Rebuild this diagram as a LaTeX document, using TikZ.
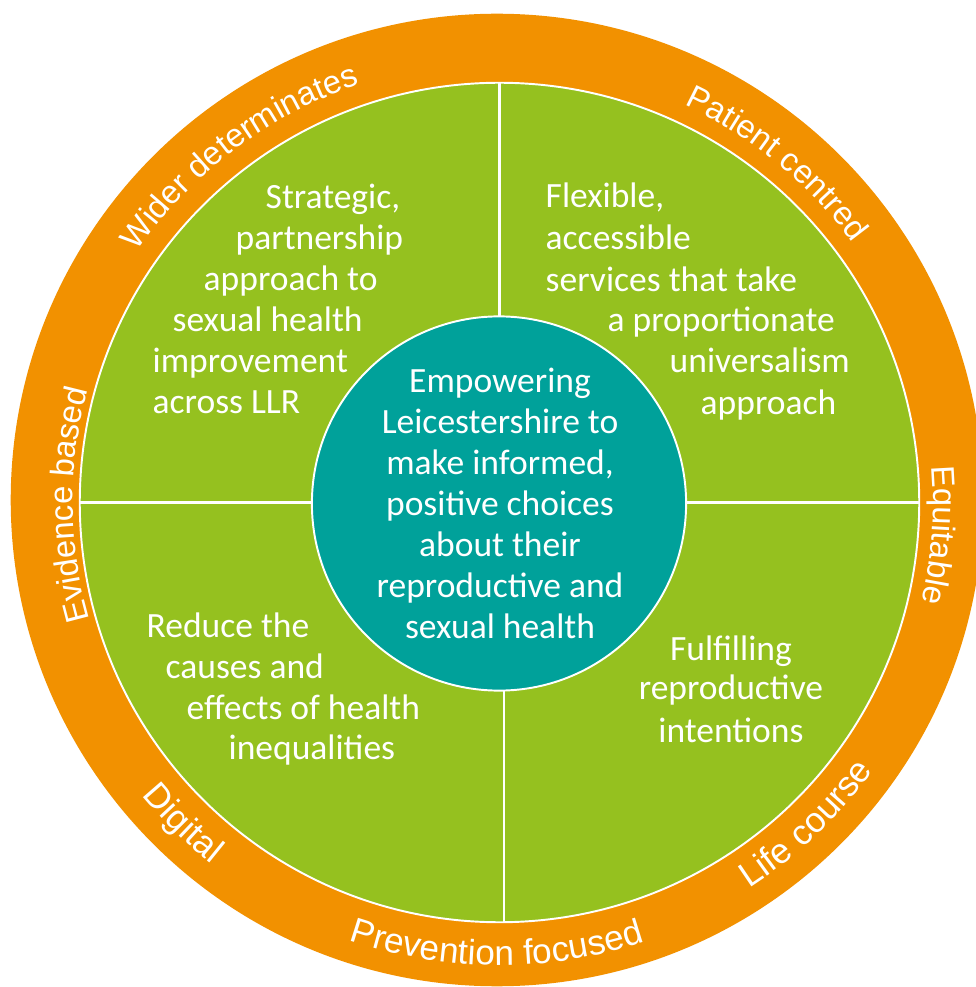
\documentclass[tikz,border=0pt]{standalone}
\usepackage{fontspec}
\usetikzlibrary{decorations.text}
\newfontfamily\bodyfnt{Carlito}
\newfontfamily\ringfnt{Liberation Sans}
\definecolor{ringorange}{HTML}{F29100}
\definecolor{wheelgreen}{HTML}{95C11F}
\definecolor{hubteal}{HTML}{00A19A}
\tikzset{
  ringdisc/.style={circle, fill=ringorange, minimum size=9.72cm, inner sep=0pt},
  wheeldisc/.style={circle, fill=wheelgreen, draw=white, line width=0.55pt, minimum size=8.39cm, inner sep=0pt},
  hubdisc/.style={circle, fill=hubteal, draw=white, line width=0.55pt, minimum size=3.74cm, inner sep=0pt},
  divider/.style={draw=white, line width=0.6pt},
  txt/.style={text=white, inner sep=0pt, font=\bodyfnt\fontsize{10.1}{12}\selectfont},
  lft/.style={txt, anchor=base west},
  ctr/.style={txt, anchor=base},
  cwlabel/.style={decorate, decoration={text along path, text align=center, text color=white,
     text={|\ringfnt\fontsize{9.3}{11}\selectfont|#1}}},
  ccwlabel/.style={decorate, decoration={text along path, text align=center, text color=white,
     text={|\ringfnt\fontsize{10}{12}\selectfont|#1}}}
}
\begin{document}
\begin{tikzpicture}[x=0.01cm, y=0.01cm]
\useasboundingbox (0,0) rectangle (976,987);
\fill[white] (0,0) rectangle (976,987);
% discs
\node[ringdisc] (ring) at (497,487) {};
\node[wheeldisc] (wheel) at (499.5,484.5) {};
\coordinate (c) at (499,485);
% dividers
\draw[divider] (wheel.north) -- (wheel.center);
\draw[divider] ([xshift=0.045cm]wheel.south) -- ([xshift=0.045cm]wheel.center);
\draw[divider] (wheel.west) -- (wheel.east);
\node[hubdisc] (hub) at (499,483.5) {};
% top-left quadrant
\node[lft] (tl1) at (265,778) {Strategic,};
\node[lft] (tl2) at (235,737) {partnership};
\node[lft] (tl3) at (203,696) {approach to};
\node[lft] (tl4) at (172,655) {sexual health};
\node[lft] (tl5) at (152,614) {improvement};
\node[lft] (tl6) at (152,573) {across LLR};
% top-right quadrant
\node[lft] (tr1) at (545,779) {Flexible,};
\node[lft] (tr2) at (545,737) {accessible};
\node[lft] (tr3) at (545,695) {services that take};
\node[lft] (tr4) at (607,655) {a proportionate};
\node[lft] (tr5) at (669,614) {universalism};
\node[lft] (tr6) at (700,572) {approach};
% hub
\node[ctr] (h1) at (500,594) {Empowering};
\node[ctr] (h2) at (500,553) {Leicestershire to};
\node[ctr] (h3) at (500,512) {make informed,};
\node[ctr] (h4) at (500,471) {positive choices};
\node[ctr] (h5) at (500,430) {about their};
\node[ctr] (h6) at (500,389) {reproductive and};
\node[ctr] (h7) at (500,348) {sexual health};
% bottom-left quadrant
\node[lft] (bl1) at (146,350) {Reduce the};
\node[lft] (bl2) at (165,308) {causes and};
\node[lft] (bl3) at (186,268) {effects of health};
\node[lft] (bl4) at (228,227) {inequalities};
% bottom-right quadrant
\node[ctr] (br1) at (731,327) {Fulfilling};
\node[ctr] (br2) at (731,287) {reproductive};
\node[ctr] (br3) at (731,245) {intentions};
% ring labels (clockwise, tops outward)
\path[cwlabel={Wider determinates}] (c) ++(166.9:4.40cm) arc[start angle=166.9, end angle=86.9, radius=4.40cm];
\path[cwlabel={Patient centred}] (c) ++(90.6:4.38cm) arc[start angle=90.6, end angle=10.6, radius=4.38cm];
\path[cwlabel={Equitable}] (c) ++(35.7:4.34cm) arc[start angle=35.7, end angle=-44.3, radius=4.34cm];
\path[cwlabel={Evidence based}] (c) ++(220.4:4.26cm) arc[start angle=220.4, end angle=140.4, radius=4.26cm];
% ring labels (counter-clockwise, tops inward)
\path[ccwlabel={Prevention focused}] (c) ++(-130.3:4.63cm) arc[start angle=-130.3, end angle=-50.3, radius=4.63cm];
\path[ccwlabel={Life course}] (c) ++(-86.4:4.60cm) arc[start angle=-86.4, end angle=-6.4, radius=4.60cm];
\path[ccwlabel={Digital}] (c) ++(-174.5:4.62cm) arc[start angle=-174.5, end angle=-94.5, radius=4.62cm];
\end{tikzpicture}
\end{document}
